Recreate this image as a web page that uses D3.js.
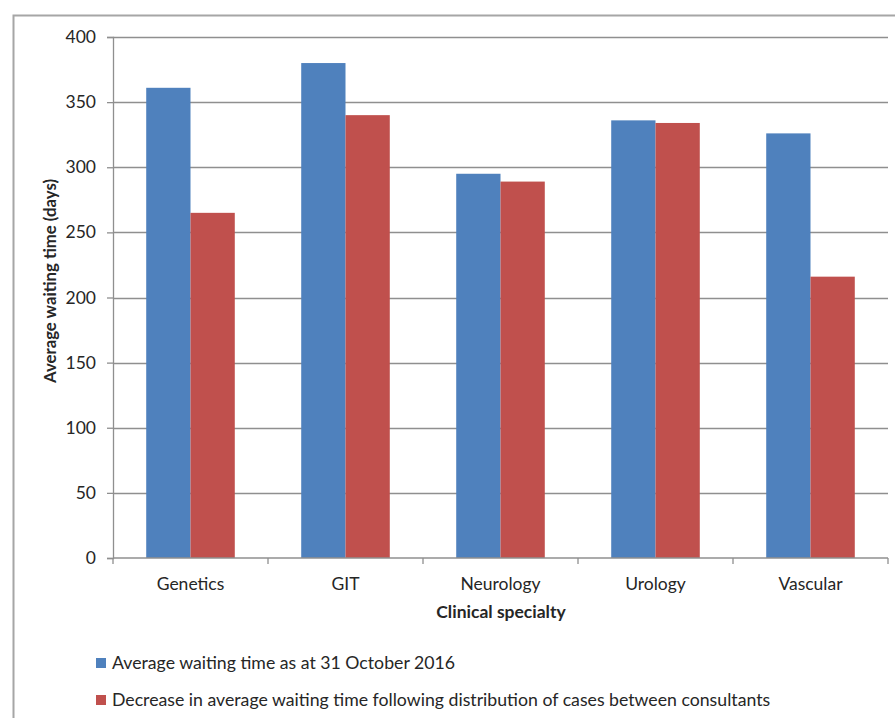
<!DOCTYPE html>
<html>
<head>
<meta charset="utf-8">
<script src="https://cdn.jsdelivr.net/npm/d3@7"></script>
<style>
  html, body { margin: 0; padding: 0; background: #fff; }
  svg { display: block; }
  text { font-family: Lato, "Open Sans", sans-serif; fill: #262626; }
</style>
</head>
<body>
<svg id="chart" width="895" height="718"></svg>
<script>
// Clinical specialties on the x axis
const categories = ["Genetics", "GIT", "Neurology", "Urology", "Vascular"];
// Average waiting time (days) as at 31 October 2016
const waitingOct2016 = [361, 380, 295, 336, 326];
// Average waiting time (days) after redistributing cases between consultants
const waitingAfterDistribution = [265, 340, 289, 334, 216];
// Y axis tick values
const yTicks = [0, 50, 100, 150, 200, 250, 300, 350, 400];

const seriesNames = [
  "Average waiting time as at 31 October 2016",
  "Decrease in average waiting time following distribution of cases between consultants"
];
const seriesColors = ["#4F81BD", "#C0504D"];
const seriesValues = [waitingOct2016, waitingAfterDistribution];

const svg = d3.select("#chart");

// Outer chart frame
svg.append("rect")
  .attr("x", 13.5).attr("y", 15.5)
  .attr("width", 900).attr("height", 720)
  .attr("fill", "none")
  .attr("stroke", "#a6a6a6")
  .attr("stroke-width", 2);

const plot = { left: 113, right: 888, top: 37, bottom: 558 };

const x = d3.scaleBand()
  .domain(categories)
  .range([plot.left, plot.right])
  .paddingInner(0).paddingOuter(0);

// Two bars per category, gap between groups is 150% of a bar width
const gapRatio = 1.5;
const barW = x.bandwidth() / (2 + gapRatio);
const xInner = d3.scaleBand()
  .domain(d3.range(seriesValues.length))
  .range([barW * gapRatio / 2, x.bandwidth() - barW * gapRatio / 2])
  .padding(0);

const y = d3.scaleLinear()
  .domain([0, 400])
  .range([plot.bottom, plot.top]);

// Horizontal gridlines
svg.append("g")
  .selectAll("line")
  .data(yTicks.filter(d => d > 0))
  .join("line")
  .attr("x1", plot.left).attr("x2", plot.right)
  .attr("y1", d => Math.round(y(d)) + 0.5)
  .attr("y2", d => Math.round(y(d)) + 0.5)
  .attr("stroke", "#8f8f8f")
  .attr("stroke-width", 1.3);

// Bars
const groups = svg.append("g")
  .selectAll("g")
  .data(categories)
  .join("g")
  .attr("transform", d => `translate(${x(d)},0)`);

groups.selectAll("rect")
  .data((d, i) => seriesValues.map((vals, s) => ({ s, v: vals[i] })))
  .join("rect")
  .attr("x", d => xInner(d.s))
  .attr("width", xInner.bandwidth())
  .attr("y", d => y(d.v))
  .attr("height", d => y(0) - y(d.v))
  .attr("fill", d => seriesColors[d.s]);

// Y axis
const yAxis = svg.append("g")
  .attr("transform", `translate(${plot.left},0)`)
  .call(d3.axisLeft(y).tickValues(yTicks).tickSize(6).tickPadding(11));
yAxis.select(".domain").attr("stroke", "#8f8f8f").attr("stroke-width", 1.3);
yAxis.selectAll(".tick line").attr("stroke", "#8f8f8f").attr("stroke-width", 1.3);
yAxis.selectAll(".tick text")
  .attr("font-size", 17.5)
  .attr("font-family", "Lato, sans-serif")
  .attr("fill", "#262626");

// X axis with ticks between categories
const xAxis = svg.append("g")
  .attr("transform", `translate(0,${plot.bottom})`);
xAxis.append("line")
  .attr("x1", plot.left).attr("x2", plot.right)
  .attr("stroke", "#8f8f8f").attr("stroke-width", 1.3);
xAxis.selectAll("line.sep")
  .data(categories.map(c => x(c)).concat([plot.right]))
  .join("line")
  .attr("class", "sep")
  .attr("x1", d => d).attr("x2", d => d)
  .attr("y1", 0).attr("y2", 6)
  .attr("stroke", "#8f8f8f").attr("stroke-width", 1.3);
xAxis.selectAll("text")
  .data(categories)
  .join("text")
  .attr("x", d => x(d) + x.bandwidth() / 2)
  .attr("y", 32)
  .attr("text-anchor", "middle")
  .attr("font-size", 17.5)
  .text(d => d);

// Axis titles
svg.append("text")
  .attr("x", 501)
  .attr("y", 618)
  .attr("text-anchor", "middle")
  .attr("font-size", 17.5)
  .attr("font-weight", "bold")
  .text("Clinical specialty");

svg.append("text")
  .attr("transform", "translate(56,281) rotate(-90)")
  .attr("text-anchor", "middle")
  .attr("font-size", 16.8)
  .attr("font-weight", "bold")
  .text("Average waiting time (days)");

// Legend
const legend = svg.append("g").attr("transform", "translate(96,0)");
const legendY = [658, 695];
seriesNames.forEach((name, i) => {
  legend.append("rect")
    .attr("x", 0).attr("y", legendY[i])
    .attr("width", 10).attr("height", 10)
    .attr("fill", seriesColors[i]);
  legend.append("text")
    .attr("x", 16).attr("y", legendY[i] + 11)
    .attr("font-size", 17.7)
    .text(name);
});
</script>
</body>
</html>
